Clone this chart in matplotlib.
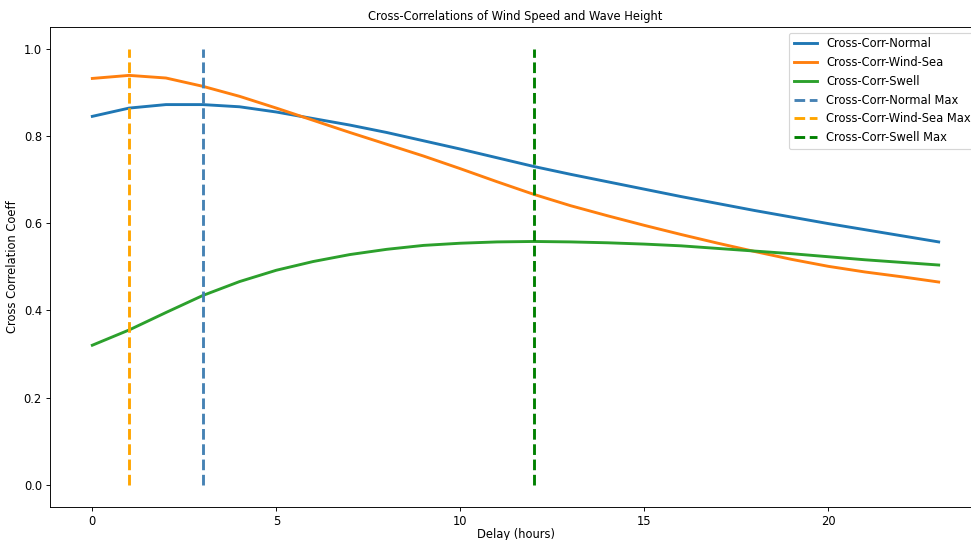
import matplotlib
matplotlib.use('Agg')
import matplotlib.pyplot as plt
import numpy as np

# delay in hours
delay = np.arange(0, 24)

corr_normal = [0.845, 0.864, 0.872, 0.872, 0.867, 0.855, 0.840, 0.825, 0.808, 0.789,
               0.770, 0.750, 0.730, 0.712, 0.695, 0.678, 0.661, 0.645, 0.629, 0.614,
               0.599, 0.585, 0.571, 0.557]
corr_windsea = [0.932, 0.939, 0.933, 0.914, 0.891, 0.864, 0.836, 0.808, 0.781, 0.754,
                0.725, 0.695, 0.666, 0.640, 0.617, 0.595, 0.574, 0.554, 0.535, 0.517,
                0.501, 0.488, 0.477, 0.465]
corr_swell = [0.320, 0.355, 0.395, 0.434, 0.466, 0.492, 0.512, 0.528, 0.540, 0.549,
              0.554, 0.557, 0.558, 0.557, 0.555, 0.552, 0.548, 0.542, 0.536, 0.530,
              0.523, 0.516, 0.510, 0.504]

max_normal = 3
max_windsea = 1
max_swell = 12

dpi = 83
fig = plt.figure(figsize=(971 / dpi, 540 / dpi), dpi=dpi)
ax = fig.add_axes([0.0515, 0.062, 0.9588, 0.888])

ax.plot(delay, corr_normal, color='tab:blue', linewidth=2.5, label='Cross-Corr-Normal')
ax.plot(delay, corr_windsea, color='tab:orange', linewidth=2.5, label='Cross-Corr-Wind-Sea')
ax.plot(delay, corr_swell, color='tab:green', linewidth=2.5, label='Cross-Corr-Swell')
ax.vlines(max_normal, 0, 1, colors='steelblue', linestyles='dashed', linewidth=2.5,
          label='Cross-Corr-Normal Max')
ax.vlines(max_windsea, 0, 1, colors='orange', linestyles='dashed', linewidth=2.5,
          label='Cross-Corr-Wind-Sea Max')
ax.vlines(max_swell, 0, 1, colors='green', linestyles='dashed', linewidth=2.5,
          label='Cross-Corr-Swell Max')

ax.set_xlim(-1.15, 24.15)
ax.set_ylim(-0.05, 1.05)
ax.set_title('Cross-Correlations of Wind Speed and Wave Height', fontsize=10)
ax.set_xlabel('Delay (hours)', labelpad=0)
ax.set_ylabel('Cross Correlation Coeff')
ax.legend(loc='upper right')

fig.savefig('out.png', dpi=dpi)
